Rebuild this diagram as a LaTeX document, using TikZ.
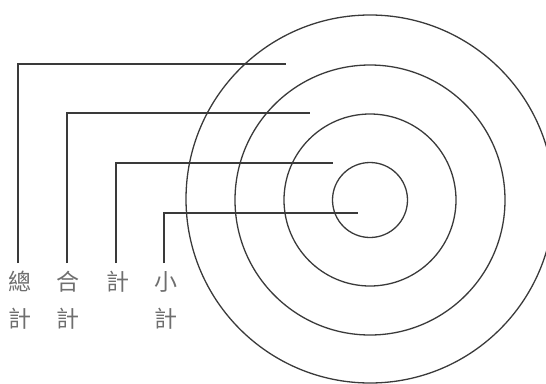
\documentclass[tikz,border=0pt]{standalone}
\usepackage{fontspec}
\usepackage{tikz}
\newfontfamily\cjk{Noto Sans CJK TC}
\usetikzlibrary{positioning, calc}
\definecolor{Ink}{HTML}{3A3A3A}
\definecolor{Label}{HTML}{6E6E6E}

\begin{document}
\begin{tikzpicture}[
        x=1pt, y=-1pt,
        ring/.style={circle, draw=Ink, line width=1.3pt, inner sep=0pt},
        lead/.style={draw=Ink, line width=1.5pt},
        tag/.style={anchor=north, text=Label, inner sep=0pt, align=center, font=\cjk\fontsize{23}{37}\selectfont}
      ]
        \useasboundingbox (0,0) rectangle (546,383);
        % target rings
        \node[ring, minimum size=75pt] (core) at (370,200) {};
        \node[ring, minimum size=172pt] (inner) at (370,200) {};
        \node[ring, minimum size=270pt] (middle) at (370,200) {};
        \node[ring, minimum size=368pt] (outer) at (370,199) {};
        % line ends
        \coordinate (totalEnd) at (286,64);
        \coordinate (sumEnd) at (310,113);
        \coordinate (subEnd) at (333,163);
        \coordinate (smallEnd) at (358,213);
        \coordinate (totalFoot) at (18,263);
        \coordinate (sumFoot) at (67,263);
        \coordinate (subFoot) at (116,263);
        \coordinate (smallFoot) at (164,263);
        % labels
        \node[tag] (total) at (20,271) {總\\計};
        \node[tag] (sum) at (68,271) {合\\計};
        \node[tag] (sub) at (118,271) {計};
        \node[tag] (small) at (166,271) {小\\計};
        \draw[lead] (totalFoot) |- (totalEnd);
        \draw[lead] (sumFoot) |- (sumEnd);
        \draw[lead] (subFoot) |- (subEnd);
        \draw[lead] (smallFoot) |- (smallEnd);
      \end{tikzpicture}
\end{document}
